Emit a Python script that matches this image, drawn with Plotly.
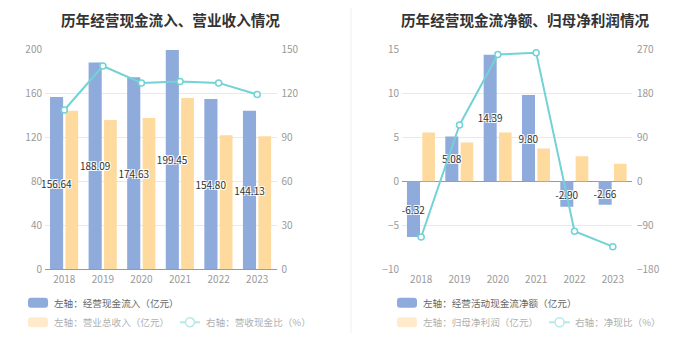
import plotly.graph_objects as go

years = ["2018", "2019", "2020", "2021", "2022", "2023"]

# Left chart
cash_inflow = [156.64, 188.09, 174.63, 199.45, 154.80, 144.13]
revenue = [144.2, 135.7, 137.5, 155.7, 121.8, 120.9]
cash_rev_ratio = [108.6, 138.6, 127.0, 128.1, 127.1, 119.2]

# Right chart
op_cf_net = [-6.32, 5.08, 14.39, 9.80, -2.90, -2.66]
net_profit = [5.55, 4.41, 5.55, 3.73, 2.84, 1.99]
cash_profit_ratio = [-113.9, 115.2, 259.3, 262.7, -102.1, -133.7]

left_title = "历年经营现金流入、营业收入情况"
right_title = "历年经营现金流净额、归母净利润情况"
left_names = ["左轴：经营现金流入（亿元）", "左轴：营业总收入（亿元）", "右轴：营收现金比（%）"]
right_names = ["左轴：经营活动现金流净额（亿元）", "左轴：归母净利润（亿元）", "右轴：净现比（%）"]

BLUE = "#8EABDB"
ORANGE = "#FFDA9E"
CYAN = "#72D2D5"
ORANGE_FADED = "#FFEBCC"
CYAN_FADED = "#B6E8EA"
FONT = "Noto Sans CJK SC"

# page is 699x359, body margin of 8px shifts the figure
OFF = 8
FW, FH = 699 - OFF, 359 - OFF


def fx(px):
    return (px - OFF) / FW


def fy(py):
    return 1 - (py - OFF) / FH


label_font = dict(family=FONT, size=10, color="#333",
                  shadow="-1px -1px 0 #fff, 1px -1px 0 #fff, -1px 1px 0 #fff, 1px 1px 0 #fff")

fig = go.Figure()


def add_chart(xa, ya, ya2, blue_vals, orange_vals, ratio_vals):
    # orange first so blue labels sit on top
    fig.add_trace(go.Bar(x=years, y=orange_vals, marker=dict(color=ORANGE, line=dict(width=0)),
                         width=0.33, offset=0.03, xaxis=xa, yaxis=ya, hoverinfo="skip"))
    fig.add_trace(go.Bar(x=years, y=blue_vals, marker=dict(color=BLUE, line=dict(width=0)),
                         width=0.34, offset=-0.37, xaxis=xa, yaxis=ya,
                         text=[f"{v:.2f}" for v in blue_vals], textposition="inside",
                         insidetextanchor="middle", constraintext="none", textangle=0,
                         insidetextfont=label_font, cliponaxis=False, hoverinfo="skip"))
    fig.add_trace(go.Scatter(x=years, y=ratio_vals, mode="lines+markers", xaxis=xa, yaxis=ya2,
                             line=dict(color=CYAN, width=2),
                             marker=dict(symbol="circle", size=6, color="white",
                                         line=dict(color=CYAN, width=1.5)),
                             hoverinfo="skip", cliponaxis=False))


add_chart("x", "y", "y2", cash_inflow, revenue, cash_rev_ratio)
add_chart("x2", "y3", "y4", op_cf_net, net_profit, cash_profit_ratio)

ydom = [fy(269.3), fy(49.3)]
tickfont = dict(family=FONT, size=10, color="#999")
GRID = "#E6E9F1"

common_x = dict(type="category", showgrid=False, ticks="", tickfont=tickfont,
                showline=False, zeroline=False, fixedrange=True, automargin=False,
                ticklabelstandoff=3)
fig.update_layout(
    width=FW, height=FH, margin=dict(l=0, r=0, t=0, b=0, autoexpand=False),
    paper_bgcolor="white", plot_bgcolor="white",
    barmode="overlay", showlegend=False,
    font=dict(family=FONT),
    xaxis=dict(domain=[fx(45), fx(276.5)], anchor="y", **common_x),
    xaxis2=dict(domain=[fx(402), fx(632)], anchor="y3", **common_x),
    yaxis=dict(domain=ydom, anchor="x", range=[0, 200], dtick=40, gridcolor=GRID,
               zeroline=True, zerolinecolor="#999", zerolinewidth=1, automargin=False,
               tickfont=tickfont, ticklabelstandoff=2),
    yaxis2=dict(domain=ydom, anchor="x", overlaying="y", side="right", range=[0, 150],
                dtick=30, showgrid=False, zeroline=False, tickfont=tickfont, automargin=False,
                ticklabelstandoff=4),
    yaxis3=dict(domain=ydom, anchor="x2", range=[-10, 15], dtick=5, gridcolor=GRID,
                zeroline=True, zerolinecolor="#999", zerolinewidth=1, automargin=False,
                tickfont=tickfont, ticklabelstandoff=2),
    yaxis4=dict(domain=ydom, anchor="x2", overlaying="y3", side="right", range=[-180, 270],
                dtick=90, showgrid=False, zeroline=False, tickfont=tickfont, automargin=False,
                ticklabelstandoff=4),
)

# titles
for cx, t in [(170, left_title), (525, right_title)]:
    fig.add_annotation(x=fx(cx), y=fy(8), xref="paper", yref="paper", showarrow=False,
                       text=f"<b>{t}</b>", font=dict(family=FONT, size=14.6, color="#333"),
                       xanchor="center", yanchor="top", borderpad=0)

# separator
fig.add_shape(type="line", xref="paper", yref="paper", x0=fx(351), x1=fx(351),
              y0=fy(333), y1=fy(0), line=dict(color="#F0F0F0", width=1))


# legend (drawn manually to match the reference layout)
def swatch(x0, x1, yc, color):
    h = 5
    r = 3
    pts = (f"M {fx(x0 + r)},{fy(yc - h)} L {fx(x1 - r)},{fy(yc - h)} "
           f"Q {fx(x1)},{fy(yc - h)} {fx(x1)},{fy(yc - h + r)} "
           f"L {fx(x1)},{fy(yc + h - r)} Q {fx(x1)},{fy(yc + h)} {fx(x1 - r)},{fy(yc + h)} "
           f"L {fx(x0 + r)},{fy(yc + h)} Q {fx(x0)},{fy(yc + h)} {fx(x0)},{fy(yc + h - r)} "
           f"L {fx(x0)},{fy(yc - h + r)} Q {fx(x0)},{fy(yc - h)} {fx(x0 + r)},{fy(yc - h)} Z")
    fig.add_shape(type="path", path=pts, xref="paper", yref="paper",
                  fillcolor=color, line=dict(width=0))


def line_icon(x0, x1, yc, color):
    fig.add_shape(type="line", xref="paper", yref="paper", x0=fx(x0), x1=fx(x1),
                  y0=fy(yc), y1=fy(yc), line=dict(color=color, width=2))
    xc = (x0 + x1) / 2
    rr = 4.5
    fig.add_shape(type="circle", xref="paper", yref="paper", x0=fx(xc - rr), x1=fx(xc + rr),
                  y0=fy(yc + rr), y1=fy(yc - rr), fillcolor="white",
                  line=dict(color=color, width=1.5))


def legend_text(x, yc, text, color):
    fig.add_annotation(x=fx(x - 1), y=fy(yc), xref="paper", yref="paper", showarrow=False,
                       text=text, font=dict(family=FONT, size=9.6, color=color),
                       xanchor="left", yanchor="middle")


ROW1, ROW2 = 302.7, 322.3
# left chart legend
swatch(28, 48, ROW1, BLUE)
legend_text(52.7, ROW1, left_names[0], "#666")
swatch(28, 48, ROW2, ORANGE_FADED)
legend_text(52.7, ROW2, left_names[1], "#B0B0B0")
line_icon(180, 200, ROW2, CYAN_FADED)
legend_text(205, ROW2, left_names[2], "#B0B0B0")
# right chart legend
swatch(397, 417, ROW1, BLUE)
legend_text(421.7, ROW1, right_names[0], "#666")
swatch(397, 417, ROW2, ORANGE_FADED)
legend_text(421.7, ROW2, right_names[1], "#B0B0B0")
line_icon(549, 570, ROW2, CYAN_FADED)
legend_text(574, ROW2, right_names[2], "#B0B0B0")

fig.write_html("out.html")
